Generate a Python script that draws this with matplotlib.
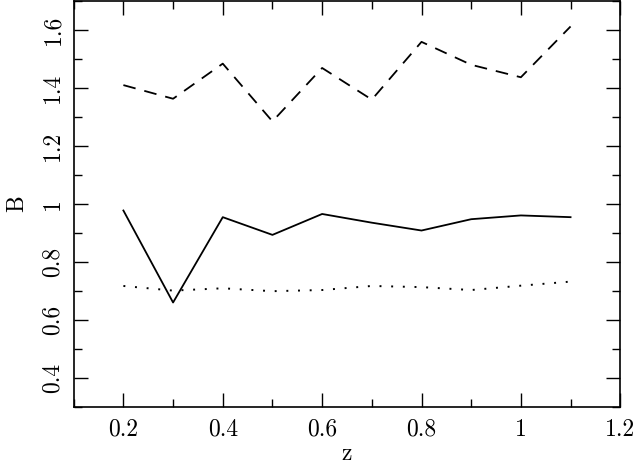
import matplotlib
matplotlib.use("Agg")
import matplotlib.pyplot as plt
from matplotlib.ticker import MultipleLocator, FuncFormatter

z = [0.2, 0.3, 0.4, 0.5, 0.6, 0.7, 0.8, 0.9, 1.0, 1.1]
b_dashed = [1.41, 1.363, 1.484, 1.285, 1.469, 1.36, 1.559, 1.48, 1.437, 1.612]
b_solid = [0.978, 0.661, 0.955, 0.894, 0.966, 0.936, 0.909, 0.948, 0.961, 0.955]
b_dotted = [0.718, 0.702, 0.710, 0.700, 0.704, 0.718, 0.714, 0.704, 0.719, 0.733]

plt.rcParams['font.family'] = ['cmr10', 'DejaVu Serif']
plt.rcParams['axes.formatter.use_mathtext'] = True

fig = plt.figure(figsize=(6.37, 4.66), dpi=100)
ax = fig.add_axes([0.1157, 0.126, 0.858, 0.872])

ax.plot(z, b_dashed, color='black', lw=1.3, linestyle=(0, (7, 5)))
ax.plot(z, b_solid, color='black', lw=1.3, linestyle='-')
ax.plot(z, b_dotted, color='black', lw=1.4, linestyle=(0, (1, 5)))

ax.set_xlim(0.1, 1.2)
ax.set_ylim(0.3, 1.7)
ax.xaxis.set_major_locator(MultipleLocator(0.2))
ax.xaxis.set_minor_locator(MultipleLocator(0.1))
ax.yaxis.set_major_locator(MultipleLocator(0.2))
ax.yaxis.set_minor_locator(MultipleLocator(0.1))

def fmt(v, pos):
    s = f"{v:.1f}"
    if s.endswith(".0"):
        s = s[:-2]
    return s

ax.xaxis.set_major_formatter(FuncFormatter(fmt))
ax.yaxis.set_major_formatter(FuncFormatter(fmt))

ax.tick_params(which='both', direction='in', top=True, right=True, width=1.0, labelsize=17)
ax.tick_params(which='major', length=10)
ax.tick_params(which='minor', length=6)
ax.tick_params(axis='x', pad=8)
ax.tick_params(axis='y', pad=7)
for lbl in ax.get_yticklabels():
    lbl.set_rotation(90)
    lbl.set_va('center')

for sp in ax.spines.values():
    sp.set_linewidth(1.2)

ax.set_xlabel('z', fontsize=17, labelpad=2)
ax.set_ylabel('B', fontsize=17, labelpad=10)

fig.savefig('out.png', dpi=100)
